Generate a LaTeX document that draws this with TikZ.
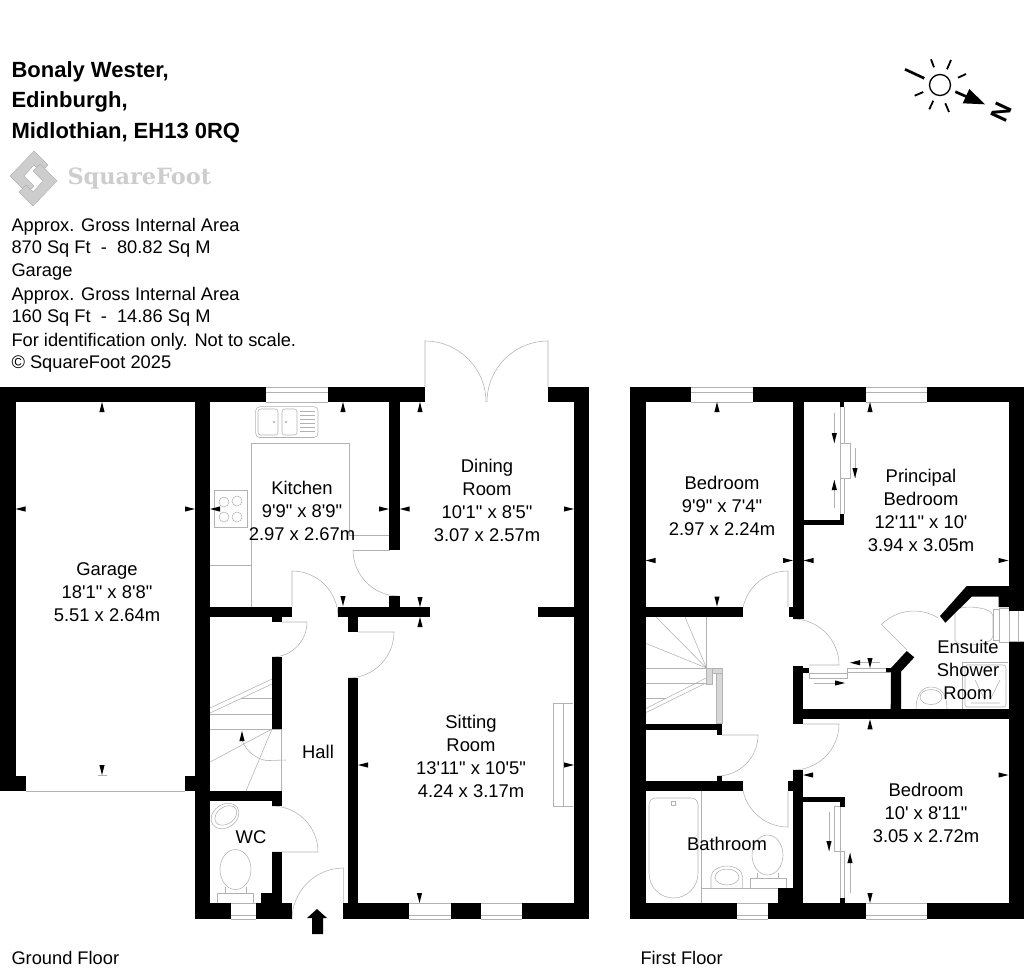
\documentclass[tikz,border=0pt]{standalone}
\usepackage{fontspec}
\setmainfont{Liberation Sans}[Ligatures=TeXOff]
\tikzset{every picture/.style={line width=0.75pt}}
\tikzset{
	wall/.style={fill=black},
	fixture/.style={draw={rgb, 255:red, 178; green, 178; blue, 178},line width=0.42pt},
	sunray/.style={line width=1.35pt},
	roomlabel/.style={align=center,inner sep=0pt,font=\fontsize{13.8}{17.25}\selectfont},
	infotext/.style={anchor=west,inner sep=0pt,font=\fontsize{13.7}{17.25}\selectfont},
	titletext/.style={anchor=west,inner sep=0pt,font=\fontsize{16.5}{17.25}\selectfont\bfseries}
}
\definecolor{logogrey}{RGB}{205,205,205}
\definecolor{rampgrey}{RGB}{215,215,215}
% small wall marks, the point touches the wall
\newcommand{\markl}[2]{\fill (#1,#2) -- ++(10,-2.6) -- ++(0,5.2) -- cycle;}
\newcommand{\markr}[2]{\fill (#1,#2) -- ++(-10,-2.6) -- ++(0,5.2) -- cycle;}
\newcommand{\marku}[2]{\fill (#1,#2) -- ++(-2.6,10) -- ++(5.2,0) -- cycle;}
\newcommand{\markd}[2]{\fill (#1,#2) -- ++(-2.6,-10) -- ++(5.2,0) -- cycle;}
\begin{document}
\begin{tikzpicture}[x=0.75pt,y=0.75pt,yscale=-1,xscale=1]
	\useasboundingbox (0,0) rectangle (1024,976);

	% Text block
	\node[titletext] (titlea) at (11,71.5) {Bonaly Wester,};
	\node[titletext] (titleb) at (11,101.5) {Edinburgh,};
	\node[titletext] (titlec) at (11,132.5) {Midlothian, EH13 0RQ};
	\node[infotext] (infoa) at (11,226.5) {Approx. Gross Internal Area};
	\node[infotext] (infob) at (11,249.5) {870 Sq Ft~~-~~80.82 Sq M};
	\node[infotext] (infoc) at (11,272.5) {Garage};
	\node[infotext] (infod) at (11,295.5) {Approx. Gross Internal Area};
	\node[infotext] (infoe) at (11,318.5) {160 Sq Ft~~-~~14.86 Sq M};
	\node[infotext] (infof) at (11,341.5) {For identification only. Not to scale.};
	\node[infotext] (infog) at (11,364.5) {© SquareFoot 2025};
	\node[infotext] (groundfloor) at (11,957.5) {Ground Floor};
	\node[infotext] (firstfloor) at (640,957.5) {First Floor};

	% Logo
	\draw[fill=logogrey,draw=gray!60,line width=0.3pt] (34,151) -- (48,165) -- (41,172) -- (34,165) -- (24,176) -- (34,186) -- (27,193) -- (10,176) -- cycle;
	\draw[fill=logogrey,draw=gray!60,line width=0.3pt] (33,206) -- (19,192) -- (26,185) -- (33,192) -- (43,181) -- (33,171) -- (40,164) -- (57,181) -- cycle;
	\node[anchor=west,inner sep=0pt,text=logogrey] (logotext) at (67,179) {\fontspec{DejaVu Serif}\fontsize{16.8}{18}\selectfont\bfseries SquareFoot};

	% Sun and north point
	\draw[line width=1pt] (940,85) circle [x radius=10.5, y radius=10.5];
	\draw[line width=2pt] (905,69.3) -- (924.3,78.3);
	\draw[sunray] (931,59.3) -- (934,67.3);
	\draw[sunray] (951,60) -- (947,69.3);
	\draw[sunray] (966,74) -- (958,77.7);
	\draw[sunray] (914.7,95.7) -- (923.3,92);
	\draw[sunray] (933.3,100.7) -- (929.3,109.3);
	\draw[sunray] (945.3,103.3) -- (949,112);
	\draw[line width=2pt] (955.3,91.7) -- (966.7,96.7);
	\fill (985,104.3) -- (969.3,89) -- (962.7,103.3) -- cycle;
	\node[rotate=-115,inner sep=0pt] (north) at (1001.7,112.5) {\fontsize{18.5}{20}\selectfont\bfseries N};

	%% Ground floor fittings
	% Garage door
	\draw[fixture] (26,791) -- (184.5,791);
	\draw[fixture] (98,775.7) -- (107,775.7);
	% Kitchen window
	\draw[fixture] (266,387) -- (328,387) (266,392) -- (328,392) (266,402) -- (328,402);
	% Sink
	\draw[fixture,rounded corners=3] (255.7,406.7) rectangle (318,437.5);
	\draw[fixture,rounded corners=2] (258,409) rectangle (278,435);
	\draw[fixture,rounded corners=2] (282,409) rectangle (297,435);
	\draw[fixture] (274,422) circle [x radius=1, y radius=1];
	\draw[fixture] (286,422) circle [x radius=1, y radius=1];
	\draw[fixture] (300,411) -- (315,411) (300,415) -- (315,415) (300,419) -- (315,419) (300,423) -- (315,423) (300,427) -- (315,427) (300,431) -- (315,431);
	% Worktop
	\draw[fixture] (251,606.5) -- (251,443) -- (349,443) -- (349,535) -- (389,535);
	\draw[fixture] (210,565) -- (251,565);
	% Hob
	\draw[fixture] (214.5,490) rectangle (247,527);
	\draw[fixture] (224,502) circle [x radius=5, y radius=5];
	\draw[fixture] (237,501) circle [x radius=5, y radius=5];
	\draw[fixture] (224,517) circle [x radius=5, y radius=5];
	\draw[fixture] (237,517) circle [x radius=5, y radius=5];
	% Doors
	\draw[fixture] (353,550) -- (389.5,550);
	\draw[fixture] (353,550) arc [start angle=180, end angle=90, radius=46];
	\draw[fixture] (292,606.5) -- (292,571) arc [start angle=-90, end angle=0, radius=46];
	\draw[fixture] (282,622) -- (307,622) arc [start angle=0, end angle=90, radius=35];
	\draw[fixture] (358,632) -- (394,632) arc [start angle=0, end angle=90, radius=46];
	\draw[fixture] (272,806) arc [start angle=-90, end angle=0, radius=46] -- (272,852);
	\draw[fixture] (343.7,903) -- (343.7,868) arc [start angle=-90, end angle=-180, radius=51.7];
	% French doors
	\draw[fixture] (425,387) -- (425,341) arc [start angle=-90, end angle=0, radius=61];
	\draw[fixture] (548,387) -- (548,341) arc [start angle=-90, end angle=-180, radius=61];
	% Stairs
	\draw[fixture] (210,708) -- (272,679) (210,713) -- (272,684);
	\draw[fixture] (241,698) -- (272,698) (210,714) -- (272,714) (210,729) -- (281.5,729) -- (281.5,791);
	\draw[fixture] (210,762) -- (272,729) -- (246,791);
	\draw[fixture] (242,740) arc [start angle=160, end angle=100, radius=32] -- (286,760);
	\marku{242}{731}
	% WC
	\draw[fixture,rotate around={-35:(225,816)}] (225,816) ellipse [x radius=15, y radius=11.5];
	\draw[fixture,rotate around={-35:(225,816)}] (226,816) ellipse [x radius=12, y radius=8.5];
	\draw[fixture] (235.5,869.5) ellipse [x radius=15.5, y radius=20];
	\draw[fixture] (225,887) -- (225,893) (246,887) -- (246,893);
	\draw[fixture] (217,893) rectangle (253,903);
	\draw[fixture] (231,903) -- (256,903) (231,915) -- (256,915) (231,919) -- (256,919);
	% Sitting room
	\draw[fixture] (573,703) -- (553,703) -- (553,806.7) -- (573,806.7);
	\draw[fixture] (563.7,703) -- (563.7,806.7);
	\draw[fixture] (409,903) -- (450.5,903) (409,915) -- (450.5,915) (409,919) -- (450.5,919);
	\draw[fixture] (481,903) -- (522,903) (481,915) -- (522,915) (481,919) -- (522,919);

	%% First floor fittings
	% Windows
	\draw[fixture] (691,387) -- (753,387) (691,392) -- (753,392) (691,402) -- (753,402);
	\draw[fixture] (866,387) -- (927,387) (866,392) -- (927,392) (866,402) -- (927,402);
	\draw[fixture] (737.3,903) -- (768,903) (737.3,915) -- (768,915) (737.3,919) -- (768,919);
	\draw[fixture] (866,903) -- (927,903) (866,915) -- (927,915) (866,919) -- (927,919);
	\draw[fixture] (1009,610.7) -- (1024,610.7) (1009,641.7) -- (1024,641.7) (1018,610.7) -- (1018,641.7);
	% Doors
	\draw[fixture] (788,607) -- (788,571) arc [start angle=-90, end angle=-180, radius=46];
	\draw[fixture] (793,619) arc [start angle=-90, end angle=0, radius=46] -- (809,665);
	\draw[fixture] (803,724) -- (839,724) arc [start angle=0, end angle=90, radius=46];
	\draw[fixture] (722,735) -- (758,735) arc [start angle=0, end angle=90, radius=41];
	\draw[fixture] (788,791) -- (788,827) arc [start angle=90, end angle=180, radius=46];
	\draw[fixture] (907,650) -- (881.5,624.5) arc [start angle=225, end angle=302, radius=46];
	% Stairs
	\draw[fixture] (706.5,617) -- (706.5,668) -- (685,617) (706.5,668) -- (656,617) (706.5,668) -- (645,643);
	\draw[fixture] (645,668) -- (706.5,668) (645,683) -- (706,683) (645,698) -- (666,698);
	\draw[fixture] (645,709) -- (706,678) (645,713) -- (706,683);
	\draw[fixture,fill=rampgrey] (712,668) rectangle (722,673);
	\draw[fixture,fill=rampgrey] (706,668) rectangle (712,684);
	\draw[fixture,fill=rampgrey] (716,673) rectangle (722,723);
	% Landing cupboard
	\draw[fixture] (809,673) -- (847,673) -- (847,668) -- (886,668);
	\draw[fixture] (809,673) -- (809,678) -- (847,678) -- (847,673) (847,672.7) -- (891,672.7);
	\draw[fixture] (860,662.7) -- (880,662.7);
	\draw[fixture] (814,683) -- (835,683);
	\markl{850}{662.7}
	\markr{845}{683}
	\markd{870}{668}
	% Wardrobe, principal bedroom
	\draw[fixture] (840,407) -- (840,514) (844.3,407) -- (844.3,443) -- (850,443) -- (850,478) -- (844.3,478) -- (844.3,514);
	\draw[fixture] (840,443) -- (844.3,443) (840,478) -- (844.3,478);
	\draw[fixture] (834.3,413) -- (834.3,443) (834.3,480) -- (834.3,508) (855,448) -- (855,478);
	\markd{834.3}{443}
	\marku{834.3}{480}
	\markd{855}{478}
	% Wardrobe, bedroom
	\draw[fixture] (834,806.7) -- (845,806.7) (834,806.7) -- (834,851.7) -- (844.5,851.7) -- (844.5,898) (840,806.7) -- (840,898);
	\draw[fixture] (829,812) -- (829,851) (850,853) -- (850,893);
	\markd{829}{851}
	\marku{850}{853}
	% Ensuite
	\draw[fixture] (955,612) .. controls (955,604) and (993,606) .. (993,616) -- (993,636) .. controls (993,646) and (955,648) .. (955,640) -- cycle;
	\draw[fixture] (993,609) rectangle (999,640);
	\draw[fixture] (999,608) rectangle (1009,642);
	\draw[fixture] (962,709) -- (962,662.5) -- (1008,662.5);
	\draw[fixture,rounded corners=2] (965,665) rectangle (1006,707);
	\draw[fixture] (971,703) -- (1000,703) (975,680) -- (985,700) (1000,680) -- (990,700);
	\draw[fixture] (916,709) .. controls (916,692) and (924,687) .. (931,687) .. controls (939,687) and (947,692) .. (947,709);
	\draw[fixture] (931,697) ellipse [x radius=11, y radius=7.5];
	% Bathroom
	\draw[fixture,rounded corners=5] (649,873) -- (649,798) -- (698,798) -- (698,873);
	\draw[fixture] (698,873) .. controls (698,888) and (686,898) .. (673.5,898) .. controls (661,898) and (649,888) .. (649,873);
	\draw[fixture] (671,801) rectangle (675,805);
	\draw[fixture] (701.7,791) -- (701.7,903) (701.7,888) -- (778,888);
	\draw[fixture] (711,888) -- (711,877) .. controls (711,870) and (720,866) .. (727,866) .. controls (734,866) and (742.7,870) .. (742.7,877) -- (742.7,888);
	\draw[fixture] (727,877) ellipse [x radius=12, y radius=8];
	\draw[fixture] (767.5,855) ellipse [x radius=15.5, y radius=20];
	\draw[fixture] (757,873) -- (757,878) (778,873) -- (778,878);
	\draw[fixture] (750,878) rectangle (786,888);

	%% Walls ground floor
	\fill[wall] (0,387) rectangle (266,402);
	\fill[wall] (328,387) rectangle (425,402);
	\fill[wall] (548,387) rectangle (589,402);
	\fill[wall] (0,387) rectangle (15.5,791);
	\fill[wall] (15,775.7) rectangle (26,791);
	\fill[wall] (184.5,775.7) rectangle (195,791);
	\fill[wall] (195,387) rectangle (210,919);
	\fill[wall] (574,387) rectangle (589,919);
	\fill[wall] (389.3,402) rectangle (399.7,550);
	\fill[wall] (389.3,596) rectangle (399.7,607);
	\fill[wall] (210,606.5) rectangle (292,617);
	\fill[wall] (272,617) rectangle (282,622);
	\fill[wall] (338,607) rectangle (430,617);
	\fill[wall] (348,617) rectangle (358,632);
	\fill[wall] (537.5,607) rectangle (575,617);
	\fill[wall] (272,657) rectangle (282,729);
	\fill[wall] (348,678) rectangle (358,903);
	\fill[wall] (210,791) rectangle (282,801);
	\fill[wall] (272,801) rectangle (282,806);
	\fill[wall] (272,852) rectangle (282,903);
	\fill[wall] (261,893) rectangle (282,903);
	\fill[wall] (195,903) rectangle (231,919);
	\fill[wall] (256,903) rectangle (292,919);
	\fill[wall] (343,903) rectangle (409,919);
	\fill[wall] (450.5,903) rectangle (481,919);
	\fill[wall] (522,903) rectangle (589,919);

	%% Walls first floor
	\fill[wall] (630,387) rectangle (691,402);
	\fill[wall] (753,387) rectangle (866,402);
	\fill[wall] (927,387) rectangle (1024,402);
	\fill[wall] (630,387) rectangle (645.5,919);
	\fill[wall] (1008.5,387) rectangle (1024,610.7);
	\fill[wall] (1008.5,641.7) rectangle (1024,919);
	\fill[wall] (793,402) rectangle (803.5,619);
	\fill[wall] (788.5,607) rectangle (793,617);
	\fill[wall] (645,606.5) rectangle (742.5,617);
	\fill[wall] (645,724) rectangle (717,729.5);
	\fill[wall] (716.7,724) rectangle (722,735);
	\fill[wall] (716.7,776) rectangle (722,781);
	\fill[wall] (645,780.7) rectangle (742.5,791);
	\fill[wall] (793,665.7) rectangle (803,724);
	\fill[wall] (803,668) rectangle (809,673);
	\fill[wall] (803,709) rectangle (1009,719.3);
	\fill[wall] (793,770) rectangle (803,919);
	\fill[wall] (788,781) rectangle (793,791);
	\fill[wall] (777.7,888) rectangle (793,903);
	\fill[wall] (630,903) rectangle (737.3,919);
	\fill[wall] (768,903) rectangle (866,919);
	\fill[wall] (927,903) rectangle (1009,919);
	\fill[wall] (803,797) rectangle (845,802);
	\fill[wall] (840,802) rectangle (845,806.7);
	\fill[wall] (840,898) rectangle (845,903);
	\fill[wall] (803,520) rectangle (844.3,525);
	\fill[wall] (840,514) rectangle (844.3,520);
	\fill[wall] (840,402) rectangle (844.3,406.7);
	\fill[wall] (891,672) -- (886,672) -- (886,668) -- (891,668) -- (906.7,651) -- (914.3,657.3) -- (901,671.7) -- (901,709) -- (890.7,709) -- cycle;
	\fill[wall] (940,616) -- (966.7,586) -- (1009,586) -- (1009,607) -- (998.5,607) -- (998.5,596.7) -- (971.7,596.7) -- (945.3,622.7) -- cycle;

	%% Wall marks
	\marku{102}{402}
	\markl{15.5}{509}
	\markr{195}{509}
	\markd{102}{775}
	\markl{210}{509}
	\markr{389}{509}
	\marku{343}{402}
	\markd{343}{606}
	\markl{399.7}{509}
	\marku{420}{402}
	\markr{574}{509}
	\markd{420}{607}
	\marku{420}{617}
	\markl{358}{765}
	\markr{574}{765}
	\markd{419.5}{903}
	\marku{717}{402}
	\markl{645.5}{560.5}
	\markr{793}{560.5}
	\markd{717}{606.5}
	\marku{870}{402}
	\markl{803.5}{560.5}
	\markr{1008.5}{560.5}
	\marku{870}{719.3}
	\markl{803}{775}
	\markr{1008.5}{775}
	\markd{870}{903}

	% Entrance arrow
	\fill (317,909) -- (327,918) -- (323,918) -- (323,934) -- (312,934) -- (312,918) -- (307,918) -- cycle;

	% Room labels
	\node[roomlabel] (garage) at (107,592.5) {Garage\\18'1" x 8'8"\\5.51 x 2.64m};
	\node[roomlabel] (kitchen) at (302,510.5) {Kitchen\\9'9" x 8'9"\\2.97 x 2.67m};
	\node[roomlabel] (dining) at (487,500) {Dining\\Room\\10'1" x 8'5"\\3.07 x 2.57m};
	\node[roomlabel] (sitting) at (471,756) {Sitting\\Room\\13'11" x 10'5"\\4.24 x 3.17m};
	\node[roomlabel] (hall) at (318,751.5) {Hall};
	\node[roomlabel] (wc) at (251,837.5) {WC};
	\node[roomlabel] (bedrooma) at (722,505.5) {Bedroom\\9'9" x 7'4"\\2.97 x 2.24m};
	\node[roomlabel] (principal) at (921,510) {Principal\\Bedroom\\12'11" x 10'\\3.94 x 3.05m};
	\node[roomlabel] (ensuite) at (968,669.5) {Ensuite\\Shower\\Room};
	\node[roomlabel] (bedroomb) at (926,812.5) {Bedroom\\10' x 8'11"\\3.05 x 2.72m};
	\node[roomlabel] (bathroom) at (727,843.5) {Bathroom};

\end{tikzpicture}
\end{document}
